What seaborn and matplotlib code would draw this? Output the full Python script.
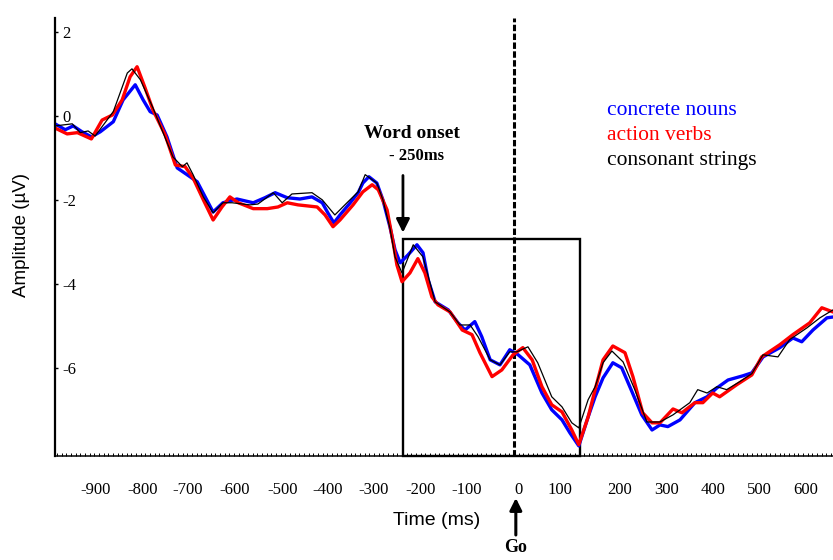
import numpy as np
import pandas as pd
import matplotlib
matplotlib.use("Agg")
import matplotlib.pyplot as plt
import seaborn as sns
from matplotlib.ticker import MultipleLocator
from matplotlib.patches import Rectangle

# ---------------- data (time in ms, amplitude in µV) ----------------
nouns_t = [-984, -962, -945, -926, -906, -887, -859, -838, -812, -795, -780, -765, -744, -722,
           -701, -679, -662, -645, -624, -594, -559, -534, -512, -486, -459, -433, -411, -399,
           -386, -373, -351, -334, -324, -311, -294, -281, -266, -255, -244, -227, -208, -195,
           -184, -169, -141, -120, -105, -84, -69, -51, -30, -9, 9, 34, 60, 81, 103, 120, 139,
           159, 174, 191, 212, 231, 253, 274, 296, 313, 330, 356, 388, 414, 435, 459, 491, 510,
           534, 570, 598, 617, 641, 671, 684]
nouns_v = [-0.19, -0.33, -0.24, -0.38, -0.50, -0.38, -0.14, 0.38, 0.74, 0.38, 0.10, 0.02, -0.50,
           -1.24, -1.40, -1.57, -1.93, -2.29, -2.07, -1.98, -2.07, -1.95, -1.83, -1.95, -1.98,
           -1.93, -2.07, -2.31, -2.55, -2.36, -2.07, -1.83, -1.60, -1.45, -1.60, -2.00, -2.64,
           -3.19, -3.50, -3.31, -3.07, -3.26, -3.90, -4.43, -4.62, -4.93, -5.10, -4.90, -5.26,
           -5.81, -5.93, -5.57, -5.69, -5.93, -6.60, -7.00, -7.24, -7.55, -7.86, -7.17, -6.69,
           -6.24, -5.88, -6.00, -6.57, -7.12, -7.48, -7.36, -7.40, -7.24, -6.83, -6.69, -6.48,
           -6.29, -6.19, -6.12, -5.74, -5.52, -5.29, -5.38, -5.10, -4.81, -4.79]

verbs_t = [-984, -958, -936, -906, -883, -861, -840, -823, -808, -791, -774, -748, -726, -705,
           -688, -666, -645, -626, -609, -591, -559, -529, -506, -486, -463, -422, -405, -388,
           -373, -345, -324, -304, -291, -272, -259, -251, -240, -223, -206, -191, -176, -163,
           -137, -111, -90, -73, -47, -26, -2, 19, 39, 60, 81, 103, 124, 139, 159, 174, 191,
           212, 238, 255, 276, 296, 313, 341, 360, 388, 405, 426, 441, 478, 510, 531, 570, 598,
           634, 660, 684]
verbs_v = [-0.29, -0.43, -0.40, -0.55, -0.10, 0.02, 0.38, 0.93, 1.17, 0.67, 0.14, -0.45, -1.17,
           -1.21, -1.48, -2.00, -2.48, -2.17, -1.93, -2.07, -2.21, -2.21, -2.17, -2.07, -2.12,
           -2.17, -2.36, -2.64, -2.48, -2.12, -1.81, -1.64, -1.76, -2.24, -3.02, -3.55, -3.95,
           -3.74, -3.40, -3.74, -4.31, -4.50, -4.67, -5.10, -5.21, -5.64, -6.21, -6.05, -5.69,
           -5.52, -5.81, -6.45, -6.88, -7.05, -7.48, -7.83, -7.17, -6.52, -5.81, -5.48, -5.64,
           -6.21, -7.07, -7.31, -7.31, -6.98, -7.07, -6.83, -6.83, -6.60, -6.69, -6.40, -6.17,
           -5.74, -5.45, -5.21, -4.93, -4.57, -4.67]

strings_t = [-984, -947, -930, -913, -898, -859, -829, -819, -801, -774, -731, -711, -701, -688,
             -666, -645, -624, -604, -566, -549, -516, -497, -476, -433, -411, -384, -358, -334,
             -319, -294, -281, -266, -255, -240, -216, -195, -169, -137, -116, -94, -77, -51,
             -30, -9, 6, 30, 51, 81, 103, 124, 139, 159, 174, 191, 210, 234, 259, 285, 313, 341,
             377, 394, 414, 435, 456, 484, 510, 534, 566, 591, 628, 656, 684]
strings_v = [-0.24, -0.19, -0.40, -0.36, -0.48, 0.10, 1.02, 1.12, 0.86, 0.19, -0.98, -1.21,
             -1.12, -1.40, -1.93, -2.31, -2.07, -2.07, -2.12, -2.10, -1.83, -2.07, -1.86, -1.83,
             -2.00, -2.36, -2.07, -1.81, -1.40, -1.60, -2.00, -2.67, -3.36, -3.74, -3.07, -3.36,
             -4.43, -4.67, -4.98, -4.98, -5.26, -5.81, -5.93, -5.62, -5.62, -5.50, -5.88, -6.69,
             -6.93, -7.31, -7.43, -6.76, -6.45, -5.88, -5.60, -5.86, -6.52, -7.29, -7.29, -7.12,
             -6.83, -6.52, -6.60, -6.45, -6.52, -6.33, -6.14, -5.69, -5.74, -5.33, -5.05, -4.81,
             -4.62]

series_names = ["concrete nouns", "action verbs", "consonant strings"]
series_colors = ["#0000ff", "#ff0000", "#000000"]

xtick_labels = ["-900", "-800", "-700", "-600", "-500", "-400", "-300", "-200", "-100",
                "0", "100", "200", "300", "400", "500", "600"]
xtick_pos = [-898, -797, -699, -598, -497, -399, -302, -201, -101, 9, 99, 227, 328, 426, 527, 626]
ytick_vals = [-6, -4, -2, 0, 2]
ytick_labels = ["-6", "-4", "-2", "0", "2"]

word_onset = -238     # left edge of box / arrow
box_end = 141
box_top = -2.93
go_time = 4

# ---------------- figure ----------------
sns.set_theme(style="white")
plt.rcParams["font.family"] = ["Liberation Serif", "DejaVu Sans"]

fig = plt.figure(figsize=(8.33, 5.6), dpi=100)
ax = fig.add_axes([55 / 833, 1 - 456 / 560, 778 / 833, 438 / 560])

frames = []
for name, t, v in zip(series_names, [nouns_t, verbs_t, strings_t], [nouns_v, verbs_v, strings_v]):
    frames.append(pd.DataFrame({"time": t, "amp": v, "cond": name}))
df = pd.concat(frames, ignore_index=True)

widths = {"concrete nouns": 2.4, "action verbs": 2.4, "consonant strings": 0.9}
for name, col in zip(series_names, series_colors):
    sub = df[df["cond"] == name]
    sns.lineplot(data=sub, x="time", y="amp", color=col, lw=widths[name], ax=ax,
                 estimator=None, sort=False, legend=False, solid_joinstyle="round",
                 solid_capstyle="round")

ax.set_xlim(-984, 684)
ax.set_ylim(-8.10, 2.33)

# spines
for s in ["top", "right"]:
    ax.spines[s].set_visible(False)
ax.spines["left"].set_linewidth(1.6)
ax.spines["bottom"].set_linewidth(1.1)
ax.spines["left"].set_color("black")
ax.spines["bottom"].set_color("black")

# ticks
ax.set_xticks(xtick_pos, xtick_labels)
ax.xaxis.set_minor_locator(MultipleLocator(10))
ax.tick_params(axis="x", which="major", length=0, pad=19, labelsize=12, colors="black")
ax.tick_params(axis="x", which="minor", direction="in", length=2.0, width=0.7,
               color="black", bottom=True)
ax.set_yticks(ytick_vals, ytick_labels)
ax.tick_params(axis="y", which="major", direction="in", length=2.5, width=1,
               pad=-5, labelsize=12, colors="black", left=True)
for lab in ax.get_yticklabels():
    lab.set_horizontalalignment("left")

ax.set_xlabel("Time (ms)", family=["Liberation Sans", "DejaVu Sans"], fontsize=14,
              color="black")
ax.set_ylabel("Amplitude (µV)", family=["Liberation Sans", "DejaVu Sans"], fontsize=13.5,
              color="black")
ax.yaxis.set_label_coords(-0.032, 0.505)
ax.xaxis.set_label_coords(0.49, -0.128)

# Go line (dashed) at time 0
ax.axvline(0, color="black", lw=2.2, ls=(0, (2.1, 0.8)), zorder=1)

# Box
ymin = ax.get_ylim()[0]
ax.add_patch(Rectangle((word_onset, ymin), box_end - word_onset, box_top - ymin,
                       fill=False, lw=1.7, edgecolor="black", clip_on=False, zorder=1))

# Word onset annotation
ax.annotate("", xy=(word_onset, -2.78), xytext=(word_onset, -1.42),
            arrowprops=dict(arrowstyle="-|>", lw=2.0, color="black", mutation_scale=20,
                            shrinkA=0, shrinkB=0))
ax.text(word_onset + 20, -0.43, "Word onset", ha="center", va="center",
        fontsize=14, fontweight="bold", color="black")
ax.text(word_onset + 30, -0.95, "- 250ms", ha="center", va="center",
        fontsize=12, fontweight="bold", color="black")

# Go annotation (below axis)
ax.annotate("", xy=(go_time, 62), xytext=(go_time, 25), xycoords=("data", "figure pixels"),
            textcoords=("data", "figure pixels"),
            arrowprops=dict(arrowstyle="-|>", lw=2.2, color="black", mutation_scale=18,
                            shrinkA=0, shrinkB=0), annotation_clip=False)
ax.annotate("Go", xy=(go_time, 12), xycoords=("data", "figure pixels"), ha="center",
            va="center", fontsize=13, fontweight="bold", color="black", annotation_clip=False)

# Legend as coloured text
legend_y = [0.788, 0.731, 0.674]
for name, col, yy in zip(series_names, series_colors, legend_y):
    ax.text(0.7095, yy, name, transform=ax.transAxes, ha="left", va="center",
            fontsize=15.5, color=col)

fig.savefig("out.png", dpi=100)
